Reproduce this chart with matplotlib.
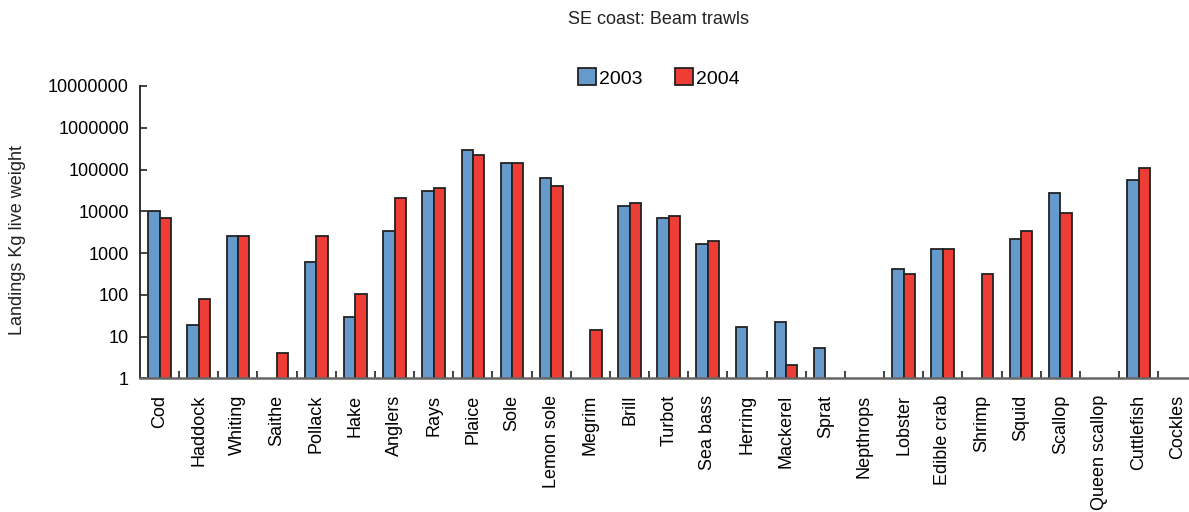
import numpy as np
import matplotlib
matplotlib.use("Agg")
import matplotlib.pyplot as plt
from matplotlib.ticker import FixedLocator, FuncFormatter, NullFormatter

plt.rcParams['font.family'] = ['Liberation Sans', 'DejaVu Sans']

# Landings per species, kg live weight (nan = no landings)
species = ['Cod', 'Haddock', 'Whiting', 'Saithe', 'Pollack', 'Hake', 'Anglers',
           'Rays', 'Plaice', 'Sole', 'Lemon sole', 'Megrim', 'Brill', 'Turbot',
           'Sea bass', 'Herring', 'Mackerel', 'Sprat', 'Nepthrops', 'Lobster',
           'Edible crab', 'Shrimp', 'Squid', 'Scallop', 'Queen scallop',
           'Cuttlefish', 'Cockles']
nan = np.nan
landings_2003 = [10100, 19, 2550, nan, 620, 29, 3400, 31000, 290000, 145000,
                 62500, nan, 13600, 6800, 1670, 16.6, 22, 5.4, nan, 408,
                 1250, nan, 2200, 27000, nan, 55000, nan]
landings_2004 = [6800, 78, 2550, 4.1, 2550, 102, 20400, 35500, 219000, 145000,
                 41000, 14.6, 15500, 7700, 1910, nan, 2.05, nan, nan, 315,
                 1250, 315, 3380, 8900, nan, 110000, nan]
years = ['2003', '2004']

c03 = '#6699cc'
c04 = '#ee3d35'
edge = '#222222'

fig = plt.figure(figsize=(11.89, 5.12), dpi=100)
ax = fig.add_axes([140 / 1189, 1 - 378.3 / 512, 27 * 39.16 / 1189, (378.3 - 86) / 512])
ax.set_yscale('log')

x = np.arange(len(species))
w = 0.29
ax.bar(x - w / 2, landings_2003, w, color=c03, edgecolor=edge, lw=1.3, label=years[0])
ax.bar(x + w / 2, landings_2004, w, color=c04, edgecolor=edge, lw=1.3, label=years[1])

ax.set_ylim(1, 1e7)
ax.set_xlim(-0.5, len(species) - 0.5)

# y axis: plain numbers, short inward ticks
ax.yaxis.set_major_locator(FixedLocator([10 ** k for k in range(8)]))
ax.yaxis.set_major_formatter(FuncFormatter(lambda v, p: '%d' % round(v)))
ax.yaxis.set_minor_formatter(NullFormatter())
ax.yaxis.set_minor_locator(FixedLocator([]))
ax.tick_params(axis='y', direction='in', length=5, width=1.2, color='#222222',
               labelsize=13, pad=8)

# x axis: ticks between categories, labels at centres
ax.set_xticks(x[:-1] + 0.5)
ax.set_xticklabels([])
ax.set_xticks(x, minor=True)
ax.set_xticklabels(species, minor=True, rotation=90, fontsize=13)
ax.tick_params(axis='x', which='major', direction='in', length=5, width=1.2, color='#222222')
ax.tick_params(axis='x', which='minor', length=0, pad=12)

for s in ['top', 'right']:
    ax.spines[s].set_visible(False)
ax.spines['left'].set_color('#222222')
ax.spines['left'].set_linewidth(1.3)
ax.spines['bottom'].set_color('#666666')
ax.spines['bottom'].set_linewidth(1.8)

fig.text(18 / 1189, 1 - 240 / 512, 'Landings Kg live weight', rotation=90,
         ha='center', va='center', fontsize=13, color='#222222')
fig.text(659 / 1189, 1 - 20 / 512, 'SE coast: Beam trawls', ha='center',
         va='center', fontsize=13, color='#222222')

fig.legend(loc='center', bbox_to_anchor=(659 / 1189, 1 - 78 / 512), ncol=2,
           frameon=False, fontsize=14, handlelength=0.95, handleheight=0.95,
           handletextpad=0.15, columnspacing=1.65)

fig.savefig('out.png', dpi=100)
